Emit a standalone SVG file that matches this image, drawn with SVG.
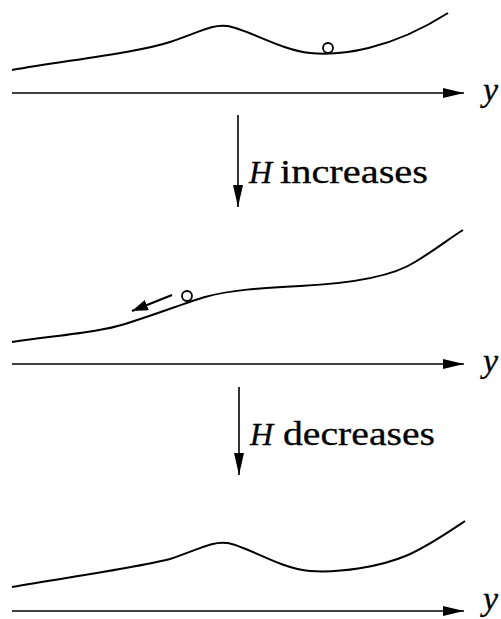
<svg xmlns="http://www.w3.org/2000/svg" width="501" height="619" viewBox="0 0 501 619">
<style>
.c{fill:none;stroke:#000;stroke-width:2}
.ax{stroke:#000;stroke-width:1.6}
.t{font-family:"Liberation Serif",serif;font-size:34px;fill:#000;stroke:#000;stroke-width:0.3}
.h{font-family:"Liberation Serif",serif;font-size:32px;font-style:italic;fill:#000;stroke:#000;stroke-width:0.3}
.y{font-family:"Liberation Serif",serif;font-size:34px;font-style:italic;fill:#000;stroke:#000;stroke-width:0.3}
</style>
<defs>
<marker id="ah" viewBox="0 0 21 10" refX="21" refY="5" markerWidth="21" markerHeight="10" markerUnits="userSpaceOnUse" orient="auto"><path d="M0,0 L21,5 L0,10 Z" fill="#000"/></marker>
<marker id="vh" viewBox="0 0 10 22" refX="5" refY="22" markerWidth="10" markerHeight="22" markerUnits="userSpaceOnUse" orient="0"><path d="M0,0 L10,0 L5,22 Z" fill="#000"/></marker>
<marker id="sh" viewBox="0 0 16 11" refX="16" refY="5.5" markerWidth="16" markerHeight="11" markerUnits="userSpaceOnUse" orient="auto"><path d="M0,0 L16,5.5 L0,11 Z" fill="#000"/></marker>
</defs>
<g id="panel1">
<path class="c" d="M12,70 C70,60 140,52 170,42 C200,32 212,24 227,26 C245,28 280,50 310,53 C340,56 390,50 448,13"/>
<circle cx="328" cy="48" r="5" fill="#fff" stroke="#000" stroke-width="1.8"/>
</g>
<g id="panel2">
<path class="c" d="M12,342 C60,335 100,332 125,324 C160,313 185,303 205,297 C230,290 260,288 300,286 C360,283 395,275 415,262 C435,250 450,238 463,230"/>
<circle cx="187" cy="296" r="5" fill="#fff" stroke="#000" stroke-width="1.8"/>
</g>
<g id="panel3">
<path class="c" d="M12,587 C70,577 140,567 170,559 C200,549 212,541 227,543 C245,545 280,569 310,571 C340,573 380,567 408,555 C430,545 450,531 465,521"/>
</g>
<g id="connectors">
<line class="ax" x1="12" y1="93" x2="464" y2="93" marker-end="url(#ah)"/>
<line class="ax" x1="12" y1="364" x2="464" y2="364" marker-end="url(#ah)"/>
<line class="ax" x1="12" y1="611" x2="464" y2="611" marker-end="url(#ah)"/>
<line class="ax" x1="238" y1="115" x2="238" y2="207" marker-end="url(#vh)"/>
<line class="ax" x1="239" y1="387" x2="239" y2="475" marker-end="url(#vh)"/>
<line stroke="#000" stroke-width="2.4" x1="172" y1="295" x2="132" y2="311" marker-end="url(#sh)"/>
</g>
<g id="labels">
<text class="y" x="483" y="101">y</text>
<text class="y" x="483" y="372">y</text>
<text class="y" x="483" y="610">y</text>
<text class="h" x="249" y="183">H</text>
<text class="t" x="280" y="183" textLength="148" lengthAdjust="spacingAndGlyphs">increases</text>
<text class="h" x="250" y="445">H</text>
<text class="t" x="283" y="445" textLength="152" lengthAdjust="spacingAndGlyphs">decreases</text>
</g>
</svg>
